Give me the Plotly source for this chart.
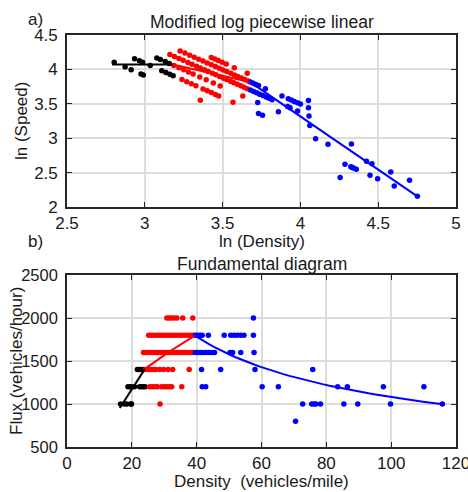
import numpy as np
import plotly.graph_objects as go

# ---------------- data (density in vehicles/mile, flux in vehicles/hour) -------------
black_flux_levels = [1000, 1200, 1400]
black_density = [
    [16.5, 17.7, 18.4, 19.6, 19.9],
    [18.8, 19.4, 19.8, 20.8, 22.4, 23.0, 23.6, 24.1],
    [21.7, 22.2, 22.9, 23.5],
]

red_flux_levels = [1000, 1200, 1400, 1600, 1800, 2000]
red_density = [
    [28.7],
    [25.5, 26.3, 27.1, 27.9, 29.2, 30.0, 30.8, 31.6, 32.3, 35.4],
    [24.2, 25.0, 25.8, 26.6, 27.4, 28.6, 29.8, 31.2, 32.6, 37.7],
    [23.6, 24.3, 25.0, 25.7, 26.5, 27.2, 28.0, 28.7, 29.5, 30.2, 31.0, 31.7,
     32.5, 33.3, 34.0, 34.8, 35.6, 36.4, 37.2, 38.0, 38.8],
    [25.2, 26.0, 26.8, 27.6, 28.4, 29.2, 30.0, 30.8, 31.6, 32.4, 33.2, 34.0,
     34.9, 35.7, 36.5, 37.4, 38.2, 39.0],
    [30.8, 31.5, 32.2, 33.0, 33.9, 35.7, 38.8],
]

blue_flux_levels = [800, 1000, 1200, 1400, 1600, 1800, 2000]
blue_density = [
    [70.5],
    [72.7, 75.5, 76.2, 76.8, 78.2, 85.4, 89.7, 99.8, 115.8],
    [41.7, 42.8, 60.2, 65.2, 83.5, 86.5, 97.6, 110.1],
    [41.5, 47.4, 58.0, 75.8],
    [39.6, 40.4, 41.2, 42.0, 42.9, 43.8, 44.6, 45.5, 50.3, 51.1, 53.6, 57.7],
    [39.6, 40.3, 41.0, 41.7, 43.6, 48.5, 50.5, 51.5, 52.5, 53.6, 54.6, 57.5],
    [57.5],
]

# piecewise linear fit in log space: breakpoints (ln density, ln speed)
fit_ln_density = [2.79, 3.18, 3.675, 4.754]
fit_ln_speed = [4.07, 4.07, 3.818, 2.15]
fit_colors = ["black", "red", "blue"]

# axis ticks
top_xticks = [2.5, 3, 3.5, 4, 4.5, 5]
top_xtext = ["2.5", "3", "3.5", "4", "4.5", "5"]
top_yticks = [2, 2.5, 3, 3.5, 4, 4.5]
top_ytext = ["2", "2.5", "3", "3.5", "4", "4.5"]
bot_xticks = [0, 20, 40, 60, 80, 100, 120]
bot_xtext = ["0", "20", "40", "60", "80", "100", "120"]
bot_yticks = [500, 1000, 1500, 2000, 2500]
bot_ytext = ["500", "1000", "1500", "2000", "2500"]

# ---------------- figure -------------------------------------------------------------
W, H = 468, 492
ML, MR, MT, MB = 67, 12, 35, 45
TOP_Y0, TOP_Y1 = 35, 207      # pixel rows of top plot box
BOT_Y0, BOT_Y1 = 275, 447     # pixel rows of bottom plot box
plot_h = H - MT - MB
plot_w = W - ML - MR
FS = 17
FS_TITLE = 17.5


def py2paper(py):
    return (H - MB - py) / plot_h


def px2paper(px):
    return (px - ML) / plot_w


def flatten(levels, dens):
    d, f = [], []
    for lev, ds in zip(levels, dens):
        for v in ds:
            d.append(v)
            f.append(lev)
    return np.array(d), np.array(f)


fig = go.Figure()
MS = 5.5
groups = [
    ("black", black_flux_levels, black_density),
    ("red", red_flux_levels, red_density),
    ("blue", blue_flux_levels, blue_density),
]
for color, levels, dens in groups:
    d, f = flatten(levels, dens)
    speed = f / d
    fig.add_trace(go.Scatter(x=np.log(d), y=np.log(speed), mode="markers",
                             marker=dict(color=color, size=MS), xaxis="x", yaxis="y",
                             showlegend=False, hoverinfo="skip"))
    fig.add_trace(go.Scatter(x=d, y=f, mode="markers",
                             marker=dict(color=color, size=MS), xaxis="x2", yaxis="y2",
                             showlegend=False, hoverinfo="skip"))

for i, color in enumerate(fit_colors):
    lx = [fit_ln_density[i], fit_ln_density[i + 1]]
    ly = [fit_ln_speed[i], fit_ln_speed[i + 1]]
    fig.add_trace(go.Scatter(x=lx, y=ly, mode="lines", line=dict(color=color, width=2),
                             xaxis="x", yaxis="y", showlegend=False, hoverinfo="skip"))
    t = np.linspace(0, 1, 40)
    ld = lx[0] + t * (lx[1] - lx[0])
    ls = ly[0] + t * (ly[1] - ly[0])
    fig.add_trace(go.Scatter(x=np.exp(ld), y=np.exp(ld + ls), mode="lines",
                             line=dict(color=color, width=2),
                             xaxis="x2", yaxis="y2", showlegend=False, hoverinfo="skip"))

AX = "#262626"
axis_common = dict(showline=True, linecolor=AX, linewidth=1.6, mirror="ticks",
                   ticks="inside", ticklen=5, tickwidth=1.3, tickcolor=AX,
                   showgrid=True, gridcolor="#dcdcdc", gridwidth=1.5, zeroline=False,
                   automargin=False, ticklabeloverflow="allow",
                   tickfont=dict(size=FS, color="#1a1a1a"), layer="below traces")

fig.update_layout(
    width=W, height=H, autosize=False, showlegend=False,
    margin=dict(l=ML, r=MR, t=MT, b=MB, autoexpand=False),
    paper_bgcolor="white", plot_bgcolor="white",
    font=dict(family="Liberation Sans, Arial, Helvetica, sans-serif", size=FS, color="#1a1a1a"),
    xaxis=dict(range=[2.5, 5], tickvals=top_xticks, ticktext=top_xtext,
               domain=[0, 1], anchor="y", **axis_common),
    yaxis=dict(range=[2, 4.5], tickvals=top_yticks, ticktext=top_ytext, ticklabelstandoff=4,
               domain=[py2paper(TOP_Y1), py2paper(TOP_Y0)], anchor="x", **axis_common),
    xaxis2=dict(range=[0, 120], tickvals=bot_xticks, ticktext=bot_xtext,
                domain=[0, 1], anchor="y2", **axis_common),
    yaxis2=dict(range=[500, 2500], tickvals=bot_yticks, ticktext=bot_ytext, ticklabelstandoff=4,
                tickfont=dict(size=16.5, color="#1a1a1a"),
                domain=[py2paper(BOT_Y1), py2paper(BOT_Y0)], anchor="x2",
                **{k: v for k, v in axis_common.items() if k != "tickfont"}),
)

ann = [
    ("a)", 35, 19.5, 0, FS),
    ("Modified log piecewise linear", 261.5, 22, 0, FS_TITLE),
    ("ln (Density)", 261.5, 241, 0, FS),
    ("ln (Speed)", 21, 121, -90, FS),
    ("b)", 35, 241, 0, FS),
    ("Fundamental diagram", 261.5, 263.5, 0, FS_TITLE),
    ("Density\u00a0 (vehicles/mile)", 261.5, 481.5, 0, FS),
    ("Flux (vehicles/hour)", 16, 361, -90, FS),
]
for text, x, y, ang, fs in ann:
    fig.add_annotation(text=text, x=px2paper(x), y=py2paper(y), xref="paper", yref="paper",
                       xanchor="center", yanchor="middle", showarrow=False, textangle=ang,
                       font=dict(size=fs, color="#1a1a1a"))

fig.write_html("out.html", config={"responsive": False})
